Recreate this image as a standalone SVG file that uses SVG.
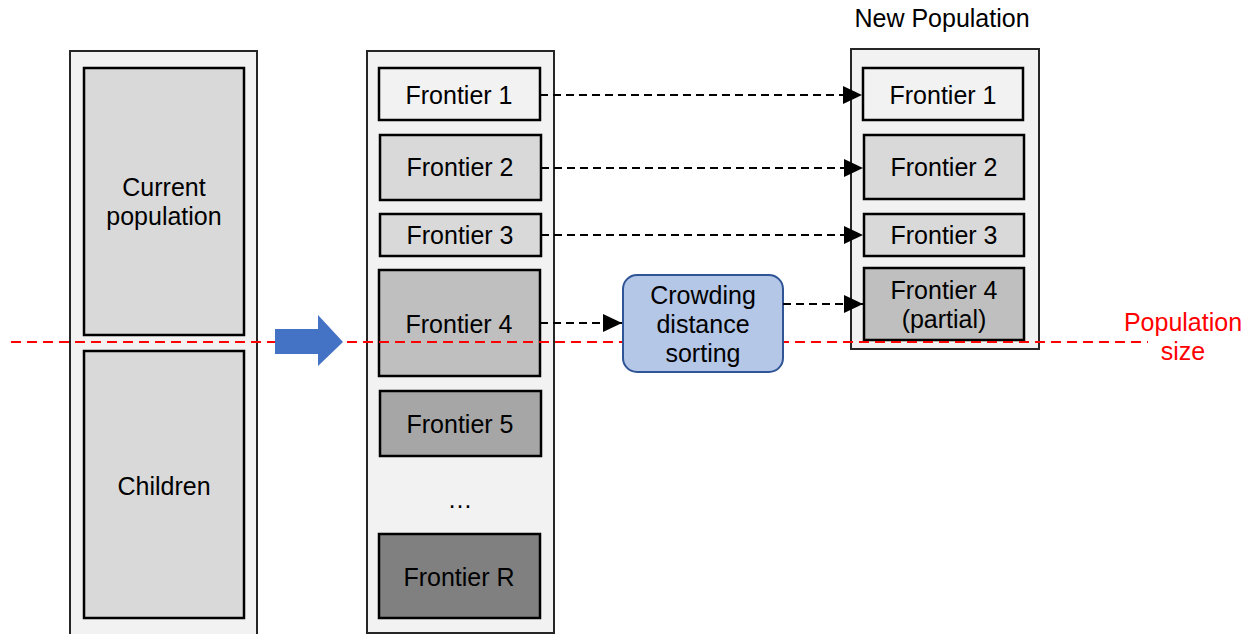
<svg xmlns="http://www.w3.org/2000/svg" width="1252" height="634" viewBox="0 0 1252 634">
<style>
text{font-family:"Liberation Sans",Arial,sans-serif;font-size:25px;fill:#000;text-anchor:middle}
.outer{fill:#f2f2f2;stroke:#262626;stroke-width:2}
.box{stroke:#000;stroke-width:2.5}
.c1{fill:#f2f2f2}.c2{fill:#d9d9d9}.c4{fill:#bfbfbf}.c5{fill:#a6a6a6}.cr{fill:#808080}
.dash{fill:none;stroke:#000;stroke-width:2;stroke-dasharray:8 5}
.red{fill:none;stroke:#ff0000;stroke-width:2;stroke-dasharray:10 6}
</style>
<defs>
<marker id="ah" markerWidth="19" markerHeight="18" refX="19" refY="9" orient="auto" markerUnits="userSpaceOnUse">
<path d="M0,0 L19,9 L0,18 Z" fill="#000"/>
</marker>
</defs>
<g id="current">
<rect class="outer" x="70" y="51" width="187" height="590"/>
<rect class="box c2" x="84" y="68" width="160" height="267"/>
<text x="164" y="196">Current</text>
<text x="164" y="225">population</text>
<rect class="box c2" x="84" y="351" width="160" height="267"/>
<text x="164" y="495">Children</text>
</g>
<g id="sorted">
<rect class="outer" x="367" y="51" width="187" height="582"/>
<rect class="box c1" x="379" y="68" width="161" height="52"/>
<text x="459" y="104">Frontier 1</text>
<rect class="box c2" x="380" y="135" width="161" height="65"/>
<text x="460" y="176">Frontier 2</text>
<rect class="box c2" x="380" y="214" width="161" height="42"/>
<text x="460" y="244">Frontier 3</text>
<rect class="box c4" x="379" y="270" width="161" height="106"/>
<text x="459" y="333">Frontier 4</text>
<rect class="box c5" x="380" y="391" width="161" height="65"/>
<text x="460" y="433">Frontier 5</text>
<text x="460" y="508">…</text>
<rect class="box cr" x="379" y="534" width="161" height="84"/>
<text x="459" y="586">Frontier R</text>
</g>
<g id="newpop">
<text x="942" y="27">New Population</text>
<rect class="outer" x="851" y="49" width="188" height="300"/>
<rect class="box c1" x="863" y="68" width="160" height="52"/>
<text x="943" y="104">Frontier 1</text>
<rect class="box c2" x="864" y="135" width="160" height="64"/>
<text x="944" y="176">Frontier 2</text>
<rect class="box c2" x="864" y="214" width="160" height="42"/>
<text x="944" y="244">Frontier 3</text>
<rect class="box c4" x="864" y="268" width="160" height="72"/>
<text x="944" y="299">Frontier 4</text>
<text x="944" y="328">(partial)</text>
</g>
<g id="popsize">
<path class="red" d="M11,342 H1148"/>
<text x="1183" y="331" style="fill:#ff0000">Population</text>
<text x="1183" y="360" style="fill:#ff0000">size</text>
</g>
<g id="big-arrow">
<path d="M275,329 H318 V315 L343,342 L318,366 V354 H275 Z" fill="#4472c4"/>
</g>
<g id="crowding">
<rect x="623" y="275" width="160" height="97" rx="14" fill="#b4c7e7" stroke="#2f5597" stroke-width="2"/>
<text x="703" y="304">Crowding</text>
<text x="703" y="333">distance</text>
<text x="703" y="362">sorting</text>
</g>
<g id="connectors">
<path class="dash" d="M540,95 H862" marker-end="url(#ah)"/>
<path class="dash" d="M541,168 H863" marker-end="url(#ah)"/>
<path class="dash" d="M541,235 H863" marker-end="url(#ah)"/>
<path class="dash" d="M540,323 H622" marker-end="url(#ah)"/>
<path class="dash" d="M783,304 H863" marker-end="url(#ah)"/>
</g>
</svg>
